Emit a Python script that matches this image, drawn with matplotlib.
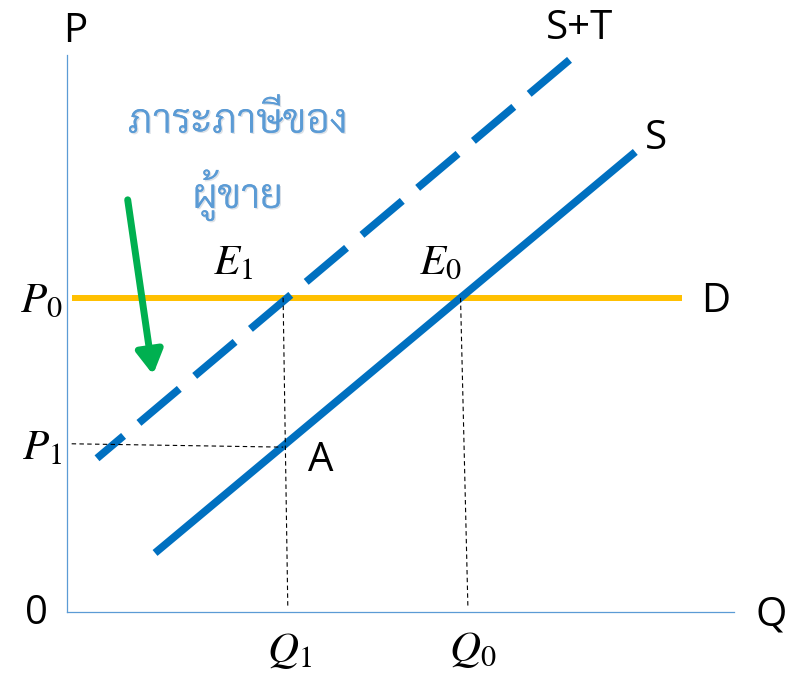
import matplotlib
matplotlib.use("Agg")
import matplotlib.pyplot as plt
import matplotlib.patheffects as pe

# supply curves (endpoints), Q and P in 0..100
s_q = [13.2, 85.2]
s_p = [10.6, 82.6]
st_q = [4.5, 76.2]
st_p = [27.6, 100.0]
d_q = [0.7, 92.2]
d_p = [56.4, 56.4]

# guide lines
q1_line_q = [32.4, 33.1]
q1_line_p = [56.4, 1.1]
q0_line_q = [59.0, 60.1]
q0_line_p = [56.4, 1.1]
p1_line_q = [0.7, 32.4]
p1_line_p = [30.2, 29.6]

# arrow (tail, head)
arrow_tail = (9.1, 74.0)
arrow_head = (12.9, 42.6)

plt.rcParams['mathtext.fontset'] = 'stix'

fig = plt.figure(figsize=(7.89, 6.73), dpi=100)
ax = fig.add_axes([67 / 789, 61 / 673, 667 / 789, 557 / 673])
ax.set_xlim(0, 100)
ax.set_ylim(0, 100)
ax.set_xticks([])
ax.set_yticks([])
for side in ['top', 'right']:
    ax.spines[side].set_visible(False)
for side in ['left', 'bottom']:
    ax.spines[side].set_color('#5B9BD5')
    ax.spines[side].set_linewidth(0.9)

blue = '#0070C0'
lw = 5.5

ax.plot(d_q, d_p, color='#FFC000', lw=4.3, solid_capstyle='butt', zorder=2)
ax.plot(s_q, s_p, color=blue, lw=lw, solid_capstyle='butt', zorder=3)
ax.plot(st_q, st_p, color=blue, lw=lw, dash_capstyle='butt', zorder=3,
        linestyle=(13 / lw, (38 / lw, 14.5 / lw)))

dash = dict(color='black', lw=0.8, linestyle=(0, (4, 3)), zorder=4)
ax.plot(q1_line_q, q1_line_p, **dash)
ax.plot(q0_line_q, q0_line_p, **dash)
ax.plot(p1_line_q, p1_line_p, **dash)

ax.annotate('', xy=arrow_head, xytext=arrow_tail,
            arrowprops=dict(arrowstyle='-|>,head_length=1.4,head_width=0.8',
                            color='#00B050', lw=5, shrinkA=0, shrinkB=0))

sans = 'Open Sans'
fs = 29
lab = dict(fontsize=fs, family=sans, ha='center', va='center', clip_on=False)
ax.text(1.3, 104.1, 'P', **lab)
ax.text(76.9, 104.7, 'S+T', **lab)
ax.text(88.3, 84.9, 'S', **lab)
ax.text(97.2, 55.7, 'D', **lab)
ax.text(38.1, 27.1, 'A', **lab)
ax.text(-4.6, -0.4, '0', **lab)
ax.text(105.6, -0.5, 'Q', **lab)

mfs = 31
mt = dict(fontsize=mfs, ha='center', va='center', clip_on=False)
ax.text(-3.9, 56.0, r'$P_0$', **mt)
ax.text(-3.7, 29.6, r'$P_1$', **mt)
ax.text(24.9, 62.8, r'$E_1$', **mt)
ax.text(55.9, 62.8, r'$E_0$', **mt)
ax.text(33.3, -6.8, r'$Q_1$', **mt)
ax.text(60.9, -6.6, r'$Q_0$', **mt)

# seller's tax burden label
thai = dict(fontsize=29, color='#5B9BD5', ha='center', va='center', clip_on=False,
            family=['Sarabun', 'DejaVu Sans'], fontweight=300,
            path_effects=[pe.withSimplePatchShadow(offset=(1, -1), shadow_rgbFace='#9aa8b8', alpha=0.35),
                          pe.Normal()])
ax.text(25.6, 88.0, 'ภาระภาษีของ', **thai)
ax.text(25.6, 74.9, 'ผู้ขาย', **thai)

fig.savefig('out.png', dpi=100)
